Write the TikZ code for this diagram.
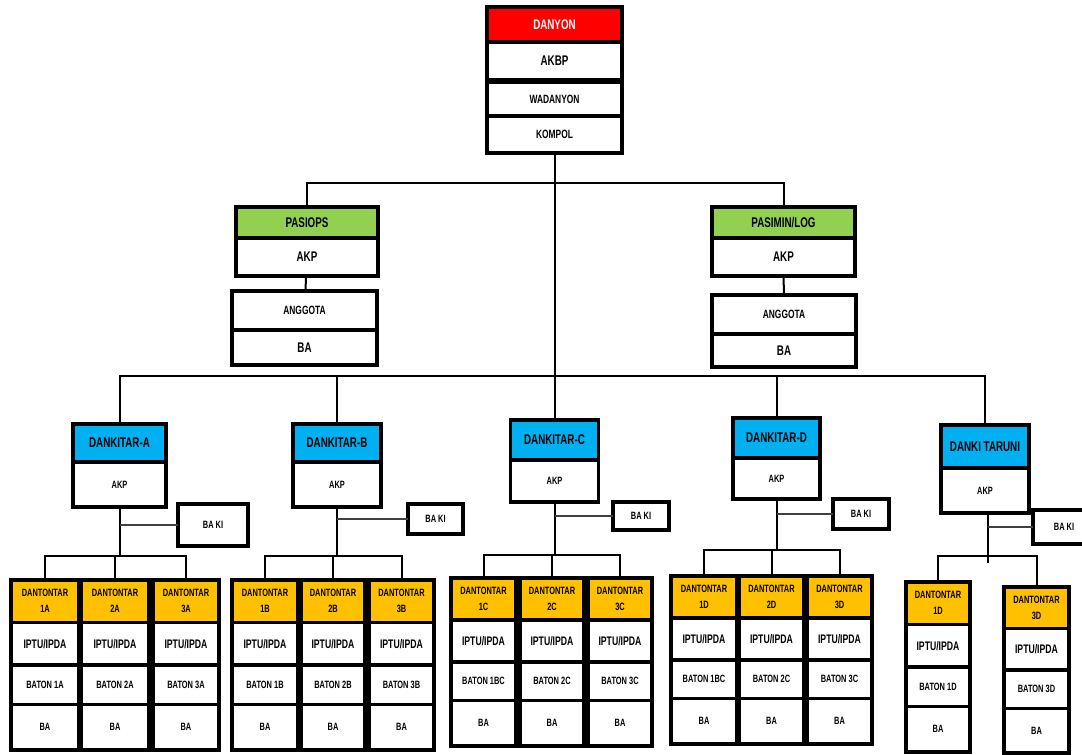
\documentclass[tikz,border=0pt]{standalone}
\usepackage{fontspec}
\setmainfont{Liberation Sans}[FakeStretch=0.7]
\usepackage{tikz}
\definecolor{merah}{RGB}{255,0,0}
\definecolor{hijau}{RGB}{146,208,80}
\definecolor{biru}{RGB}{0,176,240}
\definecolor{kuning}{RGB}{255,192,0}

\begin{document}
\begin{tikzpicture}[x=0.5pt,y=-0.5pt]
  \tikzstyle{sel}=[rectangle, draw=black, line width=1.6pt, inner sep=0pt, outer sep=0pt, align=center, text=black]
  \tikzstyle{besar}=[font=\bfseries\fontsize{7}{8}\selectfont]
  \tikzstyle{sedang}=[font=\bfseries\fontsize{6}{7}\selectfont]
  \tikzstyle{kecil}=[font=\bfseries\fontsize{5.3}{8}\selectfont]
  \tikzstyle{garis}=[line width=1pt]
  \tikzstyle{tipis}=[line width=0.7pt, draw=black!75]
  \clip (0,0) rectangle (1082,755);
  \fill[white] (0,0) rectangle (1082,755);

  % komandan batalyon
  \node[sel, besar, fill=merah, text=white, minimum width=67.5pt, minimum height=17.5pt] (danyon) at (554.5,24.5) {DANYON};
  \node[sel, besar, fill=white, minimum width=67.5pt, minimum height=19pt] (akbp) at (554.5,61) {AKBP};
  \node[sel, sedang, fill=white, minimum width=67.5pt, minimum height=17pt] (wadanyon) at (554.5,99) {WADANYON};
  \node[sel, sedang, fill=white, minimum width=67.5pt, minimum height=18.5pt] (kompol) at (554.5,134.5) {KOMPOL};
  \coordinate (cabang) at (554.5,183);
  \coordinate (busUtama) at (554.5,376);

  % pasiops dan pasimin
  \node[sel, besar, fill=hijau, minimum width=71pt, minimum height=15.5pt] (pasiops) at (307,222.5) {PASIOPS};
  \node[sel, besar, fill=white, minimum width=71pt, minimum height=19pt] (akpOps) at (307,257) {AKP};
  \node[sel, sedang, fill=white, minimum width=72.5pt, minimum height=19.5pt] (anggotaOps) at (304.5,310.5) {ANGGOTA};
  \node[sel, besar, fill=white, minimum width=72.5pt, minimum height=17.5pt] (baOps) at (304.5,347.5) {BA};
  \node[sel, besar, fill=hijau, minimum width=71.5pt, minimum height=15.5pt] (pasimin) at (783.5,222.5) {PASIMIN/LOG};
  \node[sel, besar, fill=white, minimum width=71.5pt, minimum height=19pt] (akpMin) at (783.5,257) {AKP};
  \node[sel, sedang, fill=white, minimum width=72pt, minimum height=19.5pt] (anggotaMin) at (784,314.5) {ANGGOTA};
  \node[sel, besar, fill=white, minimum width=72pt, minimum height=16.5pt] (baMin) at (784,350.5) {BA};

  \draw[garis] (kompol.south) -- (busUtama);
  \draw[garis] (pasiops.north) |- (cabang) -| (pasimin.north);
  \draw[garis] (akpOps) -- (anggotaOps);
  \draw[garis] (akpMin) -- (anggotaMin);

  % dankitar
  \node[sel, besar, fill=biru, minimum width=46.5pt, minimum height=19pt] (dkA) at (119.5,443) {DANKITAR-A};
  \node[sel, kecil, fill=white, minimum width=46.5pt, minimum height=22.5pt] (akpA) at (119.5,484.5) {AKP};
  \node[sel, kecil, fill=white, minimum width=35pt, minimum height=21pt] (bakiA) at (213,525) {BA KI};
  \node[sel, besar, fill=biru, minimum width=44pt, minimum height=19pt] (dkB) at (337,443) {DANKITAR-B};
  \node[sel, kecil, fill=white, minimum width=44pt, minimum height=22.5pt] (akpB) at (337,484.5) {AKP};
  \node[sel, kecil, fill=white, minimum width=27.5pt, minimum height=15pt] (bakiB) at (435.5,519) {BA KI};
  \node[sel, besar, fill=biru, minimum width=44pt, minimum height=20pt] (dkC) at (554.5,440) {DANKITAR-C};
  \node[sel, kecil, fill=white, minimum width=44pt, minimum height=21pt] (akpC) at (554.5,481) {AKP};
  \node[sel, kecil, fill=white, minimum width=28pt, minimum height=14pt] (bakiC) at (641,516) {BA KI};
  \node[sel, besar, fill=biru, minimum width=43.5pt, minimum height=20pt] (dkD) at (776.5,438) {DANKITAR-D};
  \node[sel, kecil, fill=white, minimum width=43.5pt, minimum height=20.5pt] (akpD) at (776.5,478.5) {AKP};
  \node[sel, kecil, fill=white, minimum width=28pt, minimum height=15pt] (bakiD) at (861,514) {BA KI};
  \node[sel, besar, fill=biru, minimum width=44pt, minimum height=21.5pt] (dkT) at (985,446.5) {DANKI TARUNI};
  \node[sel, kecil, fill=white, minimum width=44pt, minimum height=22.5pt] (akpT) at (985,490.5) {AKP};
  \node[sel, kecil, fill=white, minimum width=31pt, minimum height=17pt] (bakiT) at (1064,527) {BA KI};

  \draw[garis] (dkA.north) |- (busUtama) -| (dkT.north);
  \draw[garis] (dkB.north) -- (dkB.north |- busUtama);
  \draw[garis] (dkC.north) -- (dkC.north |- busUtama);
  \draw[garis] (dkD.north) -- (dkD.north |- busUtama);

  % dantontar
  \foreach \k/\xa/\xb/\ya/\yb/\nm/\bat in {1A/11/79/580/750/1A/BATON 1A, 2A/81/149/580/750/2A/BATON 2A,
      3A/153/219/580/750/3A/BATON 3A, 1B/232/298/580/750/1B/BATON 1B, 2B/301/365/580/750/2B/BATON 2B,
      3B/369/434/580/750/3B/BATON 3B, 1C/451/516/578/746/1C/BATON 1BC, 2C/520/584/578/746/2C/BATON 2C,
      3C/588/652/578/746/3C/BATON 3C, 1D/671/737/576/744/1D/BATON 1BC, 2D/739/804/576/744/2D/BATON 2C,
      3D/807/872/576/744/3D/BATON 3C, 1T/906/970/582/752/1D/BATON 1D, 3T/1004/1069/587/753/3D/BATON 3D}{
    \pgfmathsetmacro\lb{(\xb-\xa)*0.5}
    \pgfmathsetmacro\xc{(\xa+\xb)/2}
    \pgfmathsetmacro\t{\yb-\ya}
    \node[sel, kecil, fill=kuning, minimum width=\lb pt, minimum height=\t*0.125 pt] (h\k) at (\xc,\ya+0.125*\t) {DANTONTAR\\\nm};
    \node[sel, font=\bfseries\fontsize{6.2}{7}\selectfont, fill=white, minimum width=\lb pt, minimum height=\t*0.125 pt] (i\k) at (\xc,\ya+0.375*\t) {IPTU/IPDA};
    \node[sel, kecil, fill=white, minimum width=\lb pt, minimum height=\t*0.115 pt] (b\k) at (\xc,\ya+0.615*\t) {\bat};
    \node[sel, kecil, fill=white, minimum width=\lb pt, minimum height=\t*0.135 pt] (a\k) at (\xc,\ya+0.865*\t) {BA};
  }

  \coordinate (busA) at (119.5,556);
  \coordinate (busB) at (337,556);
  \coordinate (busC) at (554.5,555);
  \coordinate (busD) at (776.5,550);
  \coordinate (busT) at (988,556);
  \coordinate (ujungT) at (988,563);

  \draw[garis] (akpA) -- (busA);
  \draw[garis] (h1A.north) |- (busA) -| (h3A.north);
  \draw[garis] (h2A.north) -- (h2A.north |- busA);
  \draw[tipis] (akpA.south |- bakiA.west) -- (bakiA.west);

  \draw[garis] (akpB) -- (busB);
  \draw[garis] (h1B.north) |- (busB) -| (h3B.north);
  \draw[garis] (h2B.north) -- (h2B.north |- busB);
  \draw[tipis] (akpB.south |- bakiB.west) -- (bakiB.west);

  \draw[garis] (akpC) -- (busC);
  \draw[garis] (h1C.north) |- (busC) -| (h3C.north);
  \draw[garis] (h2C.north) -- (h2C.north |- busC);
  \draw[tipis] (akpC.south |- bakiC.west) -- (bakiC.west);

  \draw[garis] (akpD) -- (busD);
  \draw[garis] (h1D.north) |- (busD) -| (h3D.north);
  \draw[garis] (h2D.north) -- (h2D.north |- busD);
  \draw[tipis] (akpD.south |- bakiD.west) -- (bakiD.west);

  \draw[garis] (akpT.south -| busT) -- (ujungT);
  \draw[garis] (h1T.north) |- (busT) -| (h3T.north);
  \draw[tipis] (busT |- bakiT.west) -- (bakiT.west);
\end{tikzpicture}
\end{document}
